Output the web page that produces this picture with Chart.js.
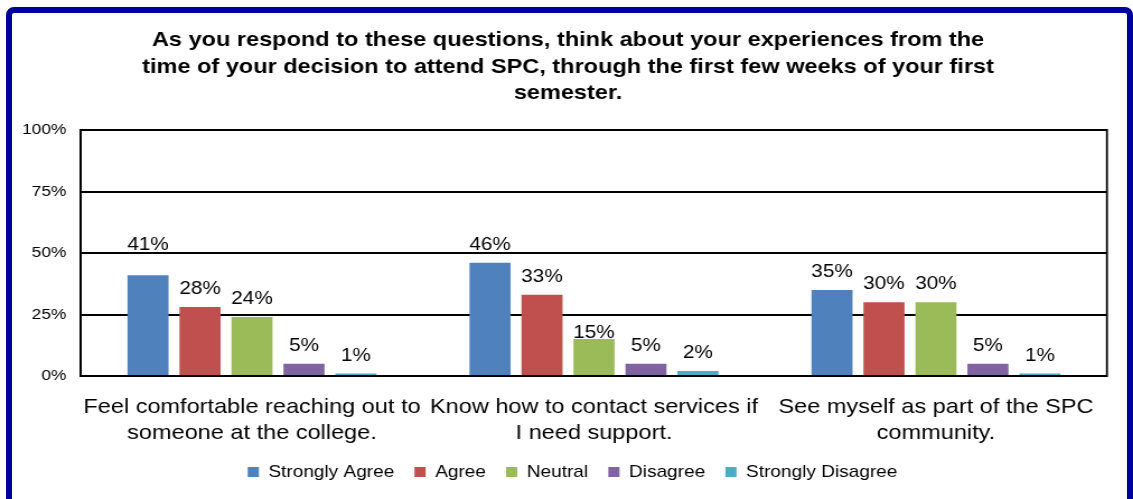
<!DOCTYPE html>
<html>
<head>
<meta charset="utf-8">
<title>First semester experiences</title>
<script src="https://cdn.jsdelivr.net/npm/chart.js@4/dist/chart.umd.min.js"></script>
<style>
    html, body { margin: 0; padding: 0; background: #fff; overflow: hidden; }
    /* chart is laid out 1012 wide and stretched to fill the 1133px frame */
    #chart-box {
        position: absolute; left: 0; top: 0;
        width: 1012px; height: 499px;
        transform: scaleX(1.1196); transform-origin: 0 0;
    }
    #frame {
        position: absolute; left: 6px; top: 7px;
        width: 1127px; height: 520px; box-sizing: border-box;
        border: 6px solid #00009c; border-radius: 8px;
        pointer-events: none;
    }
</style>
</head>
<body>
<div id="chart-box"><canvas id="survey-chart"></canvas></div>
<div id="frame"></div>
<script>
const FONT = "'Liberation Sans', Arial, sans-serif";

const questions = [
    ["Feel comfortable reaching out to", "someone at the college."],
    ["Know how to contact services if", "I need support."],
    ["See myself as part of the SPC", "community."],
];

const responses = ["Strongly Agree", "Agree", "Neutral", "Disagree", "Strongly Disagree"];

// percent of respondents, one value per question
const stronglyAgree = [41, 46, 35];
const agree = [28, 33, 30];
const neutral = [24, 15, 30];
const disagree = [5, 5, 5];
const stronglyDisagree = [1, 2, 1];

const yTicks = [0, 25, 50, 75, 100];

const COLORS = ["#4f81bd", "#c0504d", "#9bbb59", "#8064a2", "#4bacc6"];

const series = [stronglyAgree, agree, neutral, disagree, stronglyDisagree];

// value labels over each bar; a couple are nudged off the gridlines
const barLabels = {
    id: "barLabels",
    afterDatasetsDraw(chart, args, opts) {
        const ctx = chart.ctx;
        ctx.save();
        ctx.font = `18.5px ${FONT}`;
        ctx.fillStyle = "#000";
        ctx.textAlign = "center";
        ctx.textBaseline = "alphabetic";
        chart.data.datasets.forEach((ds, di) => {
            chart.getDatasetMeta(di).data.forEach((bar, i) => {
                const shift = opts.shift[`${di}:${i}`] || 0;
                ctx.fillText(`${ds.data[i]}%`, bar.x, bar.y - opts.gap + shift);
            });
        });
        ctx.restore();
    },
};

// right edge of the plot box, and title/legend centred a little right
const plotFrame = {
    id: "plotFrame",
    afterLayout(chart, args, opts) {
        chart.titleBlock.left += opts.titleShift;
        chart.titleBlock.right += opts.titleShift;
        chart.legend.left += opts.legendShift;
        chart.legend.right += opts.legendShift;
    },
    afterDatasetsDraw(chart) {
        const { ctx, chartArea } = chart;
        ctx.save();
        ctx.strokeStyle = "#000";
        ctx.lineWidth = 1.8;
        ctx.beginPath();
        ctx.moveTo(chartArea.right, chartArea.top - 1);
        ctx.lineTo(chartArea.right, chartArea.bottom + 1);
        ctx.stroke();
        ctx.restore();
    },
};

new Chart(document.getElementById("survey-chart"), {
    type: "bar",
    data: {
        labels: questions,
        datasets: responses.map((name, i) => ({
            label: name,
            data: series[i],
            backgroundColor: COLORS[i],
            borderWidth: 0,
            categoryPercentage: 0.76,
            barPercentage: 0.79,
        })),
    },
    options: {
        responsive: true,
        maintainAspectRatio: false,
        animation: false,
        layout: { padding: { left: 0, right: 23.3, top: 0, bottom: 8.5 } },
        scales: {
            x: {
                grid: { display: false, drawTicks: false },
                border: { display: true, color: "#000", width: 2 },
                ticks: {
                    color: "#000",
                    padding: 18,
                    maxRotation: 0,
                    autoSkip: false,
                    font: { family: FONT, size: 21, lineHeight: 1.238 },
                },
                afterFit(scale) { scale.height = 69.5; },
            },
            y: {
                min: 0,
                max: 100,
                afterBuildTicks(scale) {
                    scale.ticks = yTicks.map((v) => ({ value: v }));
                },
                grid: { color: "#000", lineWidth: 2, drawTicks: false },
                border: { display: true, color: "#000", width: 2 },
                ticks: {
                    color: "#000",
                    padding: 13,
                    font: { family: FONT, size: 15.5 },
                    callback: (v) => `${v}%`,
                },
                afterFit(scale) { scale.width = 72.35; },
            },
        },
        plugins: {
            title: {
                display: true,
                text: [
                    "As you respond to these questions, think about your experiences from the",
                    "time of your decision to attend SPC, through the first few weeks of your first",
                    "semester.",
                ],
                color: "#000",
                font: { family: FONT, size: 21, weight: "bold", lineHeight: 1.262 },
                padding: { top: 27, bottom: 23.5 },
            },
            legend: {
                position: "bottom",
                labels: {
                    color: "#000",
                    boxWidth: 10,
                    boxHeight: 10,
                    padding: 18,
                    font: { family: FONT, size: 17 },
                },
            },
            tooltip: { enabled: false },
            barLabels: { gap: 13, shift: { "0:0": -12, "2:1": 12 } },
            plotFrame: { titleShift: 13, legendShift: 17 },
        },
    },
    plugins: [barLabels, plotFrame],
});
</script>
</body>
</html>
